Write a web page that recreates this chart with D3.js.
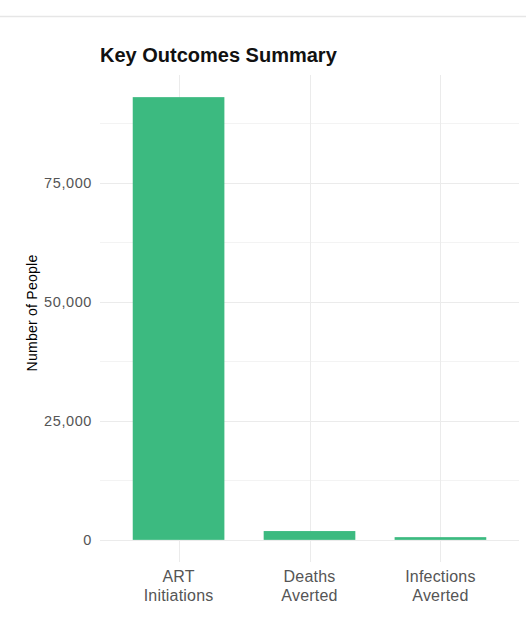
<!DOCTYPE html>
<html lang="en">
<head>
    <meta charset="UTF-8">
    <title>Key Outcomes Summary</title>
    <style>
        body {
            margin: 0;
            padding: 0;
            background: #fff;
            font-family: "Liberation Sans", Arial, sans-serif;
        }

        .grid-major line {
            stroke: #ebebeb;
            stroke-width: 1px;
        }

        .grid-minor line {
            stroke: #f3f3f3;
            stroke-width: 1px;
        }

        .bar {
            fill: #3cba80;
        }

        .tick-label {
            fill: #555;
        }
    </style>
</head>
<body>
    <div id="chart"></div>

    <script src="https://d3js.org/d3.v7.min.js"></script>
    <script>
        // Chart data
        const categories = ["ART Initiations", "Deaths Averted", "Infections Averted"];
        const categoryLines = [["ART", "Initiations"], ["Deaths", "Averted"], ["Infections", "Averted"]];
        const values = [93000, 1850, 570];
        const yTicks = [0, 25000, 50000, 75000];
        const yMinorTicks = [12500, 37500, 62500, 87500];

        const width = 526;
        const height = 630;
        const panel = { left: 100, right: 519, top: 75, bottom: 562 };

        const svg = d3.select("#chart")
            .append("svg")
            .attr("width", width)
            .attr("height", height);

        // separator line at the top of the page
        svg.append("line")
            .attr("x1", 0).attr("x2", width)
            .attr("y1", 16.5).attr("y2", 16.5)
            .attr("stroke", "#e6e6e6")
            .attr("stroke-width", 1.5);

        // ggplot-like discrete scale: 0.6 band expansion each side
        const x = d3.scalePoint()
            .domain(categories)
            .range([panel.left, panel.right])
            .padding(0.6);
        const step = x.step();
        const barWidth = step * 0.7;

        const yMax = d3.max(values);
        const y = d3.scaleLinear()
            .domain([-0.05 * yMax, yMax * 1.05])
            .range([panel.bottom, panel.top]);

        // minor horizontal grid
        svg.append("g")
            .attr("class", "grid-minor")
            .selectAll("line")
            .data(yMinorTicks.filter(d => y(d) > panel.top))
            .enter().append("line")
            .attr("x1", panel.left).attr("x2", panel.right)
            .attr("y1", d => Math.round(y(d)) + 0.5)
            .attr("y2", d => Math.round(y(d)) + 0.5);

        // major horizontal grid
        svg.append("g")
            .attr("class", "grid-major")
            .selectAll("line")
            .data(yTicks)
            .enter().append("line")
            .attr("x1", panel.left).attr("x2", panel.right)
            .attr("y1", d => Math.round(y(d)) + 0.5)
            .attr("y2", d => Math.round(y(d)) + 0.5);

        // vertical grid at category positions
        svg.append("g")
            .attr("class", "grid-major")
            .selectAll("line")
            .data(categories)
            .enter().append("line")
            .attr("x1", d => Math.round(x(d)) + 0.5)
            .attr("x2", d => Math.round(x(d)) + 0.5)
            .attr("y1", panel.top).attr("y2", panel.bottom);

        // bars
        svg.selectAll(".bar")
            .data(values)
            .enter().append("rect")
            .attr("class", "bar")
            .attr("x", (d, i) => x(categories[i]) - barWidth / 2)
            .attr("width", barWidth)
            .attr("y", d => y(d))
            .attr("height", d => y(0) - y(d));

        // y tick labels
        const fmt = d3.format(",");
        svg.append("g")
            .selectAll("text")
            .data(yTicks)
            .enter().append("text")
            .attr("class", "tick-label")
            .style("font-size", "14.5px")
            .style("letter-spacing", "0.6px")
            .attr("x", 92)
            .attr("y", d => y(d))
            .attr("dy", "0.35em")
            .attr("text-anchor", "end")
            .text(d => fmt(d));

        // x tick labels (two lines)
        const xLabels = svg.append("g")
            .selectAll("text")
            .data(categories)
            .enter().append("text")
            .attr("class", "tick-label")
            .style("font-size", "16px")
            .style("letter-spacing", "0.2px")
            .attr("text-anchor", "middle")
            .attr("x", d => x(d))
            .attr("y", 582);

        xLabels.selectAll("tspan")
            .data((d, i) => categoryLines[i])
            .enter().append("tspan")
            .attr("x", function() { return d3.select(this.parentNode).attr("x"); })
            .attr("dy", (d, i) => i === 0 ? 0 : 18.5)
            .text(d => d);

        // y axis title
        svg.append("text")
            .attr("transform", "translate(37,313) rotate(-90)")
            .attr("text-anchor", "middle")
            .style("font-size", "14px")
            .style("letter-spacing", "0.25px")
            .attr("fill", "#000")
            .text("Number of People");

        // title
        svg.append("text")
            .attr("x", 100)
            .attr("y", 62)
            .style("font-size", "20px")
            .style("font-weight", "bold")
            .attr("fill", "#111")
            .text("Key Outcomes Summary");
    </script>
</body>
</html>
